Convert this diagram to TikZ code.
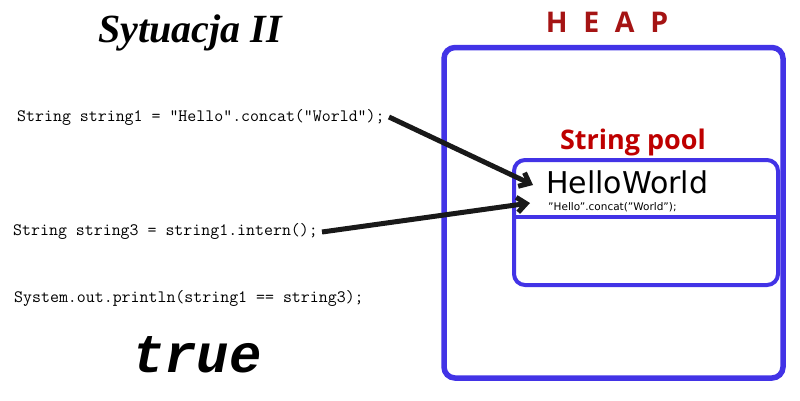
\documentclass[tikz,border=0pt]{standalone}
\usepackage{fontspec}
\setmainfont{Liberation Serif}
\setsansfont{DejaVu Sans}
\setmonofont{Liberation Mono}
\newfontfamily\heapfont{Open Sans}
\newfontfamily\codefont{Latin Modern Mono}
\usetikzlibrary{arrows.meta}
\definecolor{boxblue}{RGB}{66,51,230}
\definecolor{heapred}{RGB}{165,20,20}
\definecolor{poolred}{RGB}{190,0,0}
\tikzset{
  codetxt/.style={anchor=west, inner sep=0pt, font=\fontsize{17.4}{19}\selectfont\codefont},
  bluebox/.style={draw=boxblue, rounded corners=11pt},
  arr/.style={draw=black!90, line width=5pt, -{Straight Barb[length=9pt,width=15pt,line width=5pt]}}
}
\begin{document}
\begin{tikzpicture}[x=1pt,y=-1pt]
\useasboundingbox (0,0) rectangle (800,400);
% title
\node[inner sep=0pt] (title) at (190,33) {\fontsize{40}{44}\selectfont\bfseries\itshape Sytuacja II};
% code
\node[codetxt] (c1) at (17,117) {String string1 = "Hello".concat("World");};
\node[codetxt] (c2) at (13,231) {String string3 = string1.intern();};
\node[codetxt] (c3) at (14,298) {System.out.println(string1 == string3);};
\node[inner sep=0pt] (res) at (197,355) {\fontsize{54}{58}\selectfont\ttfamily\bfseries\itshape true};
% heap
\draw[bluebox, line width=5.5pt] (444,47.5) rectangle (783,378);
\node[inner sep=0pt, text=heapred] (heap) at (607,22) {\fontsize{28.5}{32}\selectfont\heapfont\bfseries H\hspace{0.55em}E\hspace{0.55em}A\hspace{0.55em}P};
% string pool
\node[inner sep=0pt, text=poolred] (pool) at (633,142) {\fontsize{27}{30}\selectfont\heapfont\bfseries String pool};
\draw[bluebox, line width=4pt] (514,160) rectangle (778,285);
\draw[draw=boxblue, line width=4pt] (514,217) -- (778,217);
\node[anchor=west, inner sep=0pt] (hw) at (546,182) {\fontsize{30}{34}\selectfont\sffamily HelloWorld};
\node[anchor=west, inner sep=0pt] (hwsrc) at (548,207) {\fontsize{10.5}{12}\selectfont\sffamily "Hello".concat("World");};
\coordinate (t1) at (533,185);
\coordinate (t2) at (530,203);
\coordinate (s1) at (389,117);
\coordinate (s2) at (322,232);
\draw[arr] (s1) -- (t1);
\draw[arr] (s2) -- (t2);
\end{tikzpicture}
\end{document}
